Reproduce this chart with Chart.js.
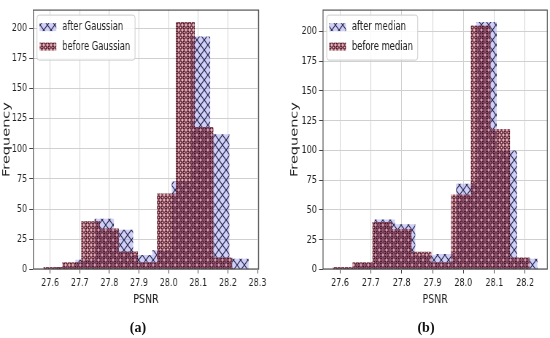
<!DOCTYPE html>
<html>
<head>
<meta charset="utf-8">
<script src="https://cdn.jsdelivr.net/npm/chart.js@4.4.1/dist/chart.umd.min.js"></script>
<style>
  html, body { margin: 0; padding: 0; background: #fff; }
  #wrap { position: relative; width: 550px; height: 338px; overflow: hidden; }
  .box { position: absolute; top: 0; height: 338px; overflow: hidden; }
  /* the original figure is squeezed horizontally, so the canvases are too */
  .squeeze { transform-origin: 0 0; }
  .cap { position: absolute; top: 320px; width: 40px; text-align: center; line-height: 16px;
         font: bold 14px "Liberation Serif", "DejaVu Serif", serif; color: #111; }
</style>
</head>
<body>
<div id="wrap">
  <div class="box" style="left:0;width:275px">
    <div class="squeeze" style="transform:scaleX(0.7294)"><canvas id="chartA" width="377" height="338"></canvas></div>
  </div>
  <div class="box" style="left:288px;width:262px">
    <div class="squeeze" style="transform:scaleX(0.7298)"><canvas id="chartB" width="359" height="338"></canvas></div>
  </div>
  <div class="cap" style="left:118px">(a)</div>
  <div class="cap" style="left:406px">(b)</div>
</div>
<script>
// histogram bins: bin edges (PSNR) and counts
const beforeEdges  = [27.577, 27.641, 27.705, 27.768, 27.832, 27.896, 27.960, 28.024, 28.088, 28.151, 28.215];
const beforeCounts = [2, 6, 40, 34, 15, 6, 63, 205, 118, 10];

const gaussEdges  = [27.620, 27.685, 27.750, 27.815, 27.880, 27.945, 28.010, 28.075, 28.140, 28.205, 28.270];
const gaussCounts = [2, 8, 42, 33, 12, 16, 73, 193, 112, 9];

const medianEdges  = [27.580, 27.646, 27.712, 27.778, 27.844, 27.910, 27.976, 28.042, 28.108, 28.174, 28.240];
const medianCounts = [1, 5, 42, 38, 12, 13, 72, 208, 100, 9];

const xTicksA = [27.6, 27.7, 27.8, 27.9, 28.0, 28.1, 28.2, 28.3];
const xTicksB = [27.6, 27.7, 27.8, 27.9, 28.0, 28.1, 28.2];
const yTicks  = [0, 25, 50, 75, 100, 125, 150, 175, 200];

const sans = '"DejaVu Sans", sans-serif';

// left edge of each bin carries its count, last edge closes the last bin
function steps(edges, counts) {
  return edges.map((x, i) => ({ x: x, y: counts[Math.min(i, counts.length - 1)] }));
}

// hatch patterns (matplotlib 'x' and 'o')
function crossHatch() {
  const t = document.createElement('canvas');
  t.width = 10; t.height = 10;
  const c = t.getContext('2d');
  c.fillStyle = 'rgba(160,160,245,0.5)';
  c.fillRect(0, 0, 10, 10);
  c.strokeStyle = 'rgba(25,25,55,0.9)';
  c.lineWidth = 1.2;
  c.beginPath();
  c.moveTo(0, 0); c.lineTo(10, 10);
  c.moveTo(10, 0); c.lineTo(0, 10);
  c.stroke();
  return c.createPattern(t, 'repeat');
}
function ringHatch() {
  const t = document.createElement('canvas');
  t.width = 5; t.height = 5;
  const c = t.getContext('2d');
  c.fillStyle = 'rgba(235,125,140,0.55)';
  c.fillRect(0, 0, 5, 5);
  c.strokeStyle = 'rgba(50,0,20,0.95)';
  c.lineWidth = 1.25;
  c.beginPath();
  c.ellipse(2.5, 2.5, 1.6, 1.6, 0, 0, Math.PI * 2);
  c.stroke();
  return c.createPattern(t, 'repeat');
}

// axes frame on all four sides
const frame = {
  id: 'frame',
  afterDatasetsDraw(chart) {
    const a = chart.chartArea, ctx = chart.ctx;
    ctx.save();
    ctx.strokeStyle = '#555';
    ctx.lineWidth = 1.2;
    ctx.strokeRect(a.left + 0.5, a.top + 0.5, a.right - a.left - 1, a.bottom - a.top - 1);
    ctx.restore();
  }
};

// matplotlib style legend inside the axes, upper left
const boxLegend = {
  id: 'boxLegend',
  afterDraw(chart) {
    const ctx = chart.ctx, a = chart.chartArea;
    const sets = chart.data.datasets;
    ctx.save();
    ctx.font = '11.5px ' + sans;
    const textW = Math.max(...sets.map(d => ctx.measureText(d.label).width));
    const x0 = a.left + 5, y0 = a.top + 5;
    const w = 35 + textW + 6, h = 45;
    ctx.fillStyle = 'rgba(255,255,255,0.85)';
    ctx.strokeStyle = '#cccccc';
    ctx.lineWidth = 1;
    ctx.beginPath();
    ctx.roundRect(x0 + 0.5, y0 + 0.5, w, h, 3);
    ctx.fill();
    ctx.stroke();
    sets.forEach((d, i) => {
      const cy = y0 + 12.5 + i * 19.5;
      ctx.fillStyle = d.backgroundColor;
      ctx.fillRect(x0 + 4, cy - 4, 23, 8);
      ctx.fillStyle = '#222';
      ctx.textBaseline = 'middle';
      ctx.fillText(d.label, x0 + 35, cy);
    });
    ctx.restore();
  }
};

function makeChart(id, afterLabel, afterEdges, afterCounts, beforeLabel, xMin, xMax, yMax, xTicks, yWidth, padRight) {
  return new Chart(document.getElementById(id), {
    type: 'line',
    data: {
      datasets: [
        {
          label: afterLabel,
          data: steps(afterEdges, afterCounts),
          stepped: 'before',
          fill: 'origin',
          backgroundColor: crossHatch(),
          borderColor: 'transparent',
          borderWidth: 0,
          pointRadius: 0,
          order: 1
        },
        {
          label: beforeLabel,
          data: steps(beforeEdges, beforeCounts),
          stepped: 'before',
          fill: 'origin',
          backgroundColor: ringHatch(),
          borderColor: 'transparent',
          borderWidth: 0,
          pointRadius: 0,
          order: 0
        }
      ]
    },
    options: {
      responsive: false,
      animation: false,
      events: [],
      layout: { padding: { top: 3, right: padRight, left: 0, bottom: 28.5 } },
      plugins: { legend: { display: false }, tooltip: { enabled: false } },
      scales: {
        x: {
          type: 'linear',
          min: xMin,
          max: xMax,
          afterBuildTicks: s => { s.ticks = xTicks.map(v => ({ value: v })); },
          afterFit: s => { s.height = 40; },
          ticks: { callback: v => v.toFixed(1), font: { family: sans, size: 11 }, color: '#222', padding: 3, maxRotation: 0 },
          grid: { color: '#d0d0d0', tickColor: '#444', tickLength: 4 },
          border: { display: false },
          title: { display: true, text: 'PSNR', color: '#222', font: { family: sans, size: 13 }, padding: { top: 2, bottom: 2 } }
        },
        y: {
          min: 0,
          max: yMax,
          afterBuildTicks: s => { s.ticks = yTicks.map(v => ({ value: v })); },
          afterFit: s => { s.width = yWidth; },
          ticks: { font: { family: sans, size: 11 }, color: '#222', padding: 3 },
          grid: { color: '#d0d0d0', tickColor: '#444', tickLength: 5 },
          border: { display: false },
          title: { display: true, text: 'Frequency', color: '#222', font: { family: sans, size: 14.5, lineHeight: 1 }, padding: { top: 2, bottom: 0 } }
        }
      }
    },
    plugins: [frame, boxLegend]
  });
}

makeChart('chartA', 'after Gaussian', gaussEdges, gaussCounts, 'before Gaussian',
          27.542, 28.305, 215.25, xTicksA, 45.2, 21.9);
makeChart('chartB', 'after median', medianEdges, medianCounts, 'before median',
          27.544, 28.273, 218.4, xTicksB, 47.5, 3.2);
</script>
</body>
</html>
